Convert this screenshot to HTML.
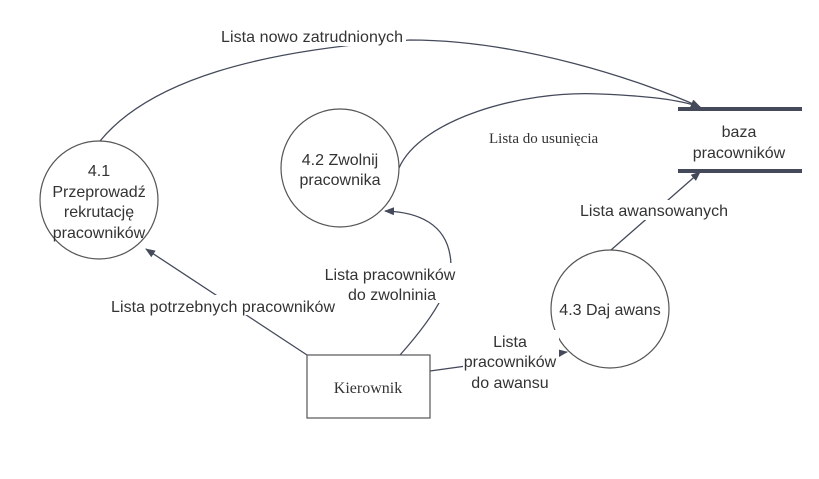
<!DOCTYPE html>
<html><head><meta charset="utf-8"><style>
html,body{margin:0;padding:0;background:#fff;}
svg{display:block;}
text{font-family:"Liberation Sans",sans-serif;font-size:16px;fill:#333;}
.s{font-family:"Liberation Serif",serif;font-size:15px;}
</style></head><body>
<svg width="819" height="479" viewBox="0 0 819 479">
<defs><marker id="a" markerWidth="10" markerHeight="8" refX="9" refY="4" orient="auto" markerUnits="userSpaceOnUse"><path d="M0,0 L10,4 L0,8 z" fill="#444a5a"/></marker></defs>
<g fill="none" stroke="#444a5a" stroke-width="1.3">
<path d="M100,141 C150,80 260,50 410,40 C520,40 640,80 700,107" marker-end="url(#a)"/>
<path d="M399,168 C420,120 520,90 600,94 C650,96 680,100 700,107" marker-end="url(#a)"/>
<path d="M611,250 L700,172" marker-end="url(#a)"/>
<path d="M400,355 C440,310 455,280 450,255 C445,225 420,212 385,211" marker-end="url(#a)"/>
<path d="M307,355 L146,249" marker-end="url(#a)"/>
<path d="M430,371 L567,352" marker-end="url(#a)"/>
</g>
<g fill="#fff" stroke="#555" stroke-width="1.2">
<circle cx="99" cy="200" r="59"/>
<circle cx="340" cy="168" r="59"/>
<circle cx="610" cy="309" r="59"/>
<rect x="307" y="355" width="123" height="63"/>
</g>
<rect x="678" y="107" width="124" height="4" fill="#444a5a"/>
<rect x="678" y="169" width="124" height="4" fill="#444a5a"/>
<g text-anchor="middle">
<text x="99" y="176">4.1</text>
<text x="99" y="197">Przeprowadź</text>
<text x="99" y="217">rekrutację</text>
<text x="99" y="238">pracowników</text>
<text x="340" y="165">4.2 Zwolnij</text>
<text x="340" y="185">pracownika</text>
<text x="610" y="315">4.3 Daj awans</text>
<text x="739" y="137">baza</text>
<text x="739" y="158">pracowników</text>
<text class="s" x="368" y="393" style="font-size:16px">Kierownik</text>
</g>
<rect x="216" y="26" width="190" height="20" fill="#fff"/>
<text x="221" y="42" textLength="182">Lista nowo zatrudnionych</text>
<text class="s" x="489" y="143">Lista do usunięcia</text>
<rect x="576" y="200" width="156" height="20" fill="#fff"/>
<text x="580" y="216" textLength="148">Lista awansowanych</text>
<rect x="108" y="295" width="230" height="20" fill="#fff"/>
<text x="111" y="312" textLength="224">Lista potrzebnych pracowników</text>
<rect x="320" y="263" width="138" height="40" fill="#fff"/>
<g text-anchor="middle">
<text x="390" y="280">Lista pracowników</text>
<text x="392" y="300">do zwolninia</text>
</g>
<rect x="463" y="330" width="96" height="60" fill="#fff"/>
<g text-anchor="middle">
<text x="510" y="347">Lista</text>
<text x="510" y="367">pracowników</text>
<text x="510" y="388">do awansu</text>
</g>
</svg>
</body></html>
